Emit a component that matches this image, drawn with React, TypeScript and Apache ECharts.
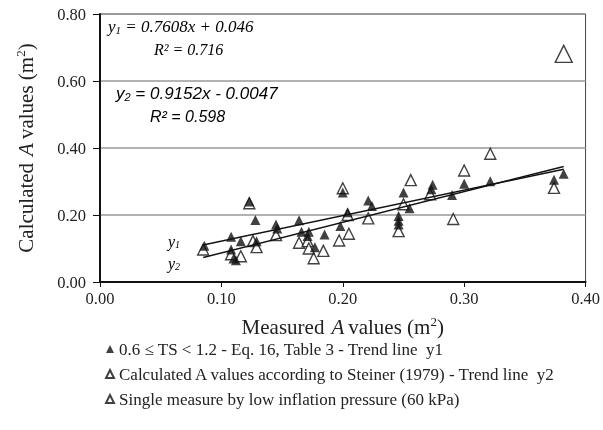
import React, { useEffect, useRef } from "react";
import * as echarts from "echarts";

// Measured vs calculated contact area, Eq. 16 (filled triangles)
const eq16Measured = [
  0.086, 0.108, 0.108, 0.110, 0.112, 0.116, 0.123, 0.128, 0.129, 0.145, 0.146,
  0.164, 0.166, 0.172, 0.171, 0.177, 0.185, 0.198, 0.200, 0.204, 0.221, 0.224,
  0.246, 0.246, 0.246, 0.250, 0.255, 0.274, 0.273, 0.290, 0.300, 0.3215, 0.374,
  0.382,
];
const eq16Calculated = [
  0.108, 0.135, 0.097, 0.070, 0.065, 0.122, 0.240, 0.185, 0.122, 0.172, 0.160,
  0.184, 0.150, 0.150, 0.137, 0.104, 0.142, 0.167, 0.267, 0.208, 0.243, 0.227,
  0.197, 0.183, 0.172, 0.267, 0.220, 0.290, 0.277, 0.260, 0.293, 0.301, 0.305,
  0.323,
];

// Steiner (1979) (open triangles)
const steinerMeasured = [
  0.085, 0.108, 0.116, 0.123, 0.126, 0.129, 0.145, 0.164, 0.171, 0.172, 0.176,
  0.184, 0.197, 0.205, 0.200, 0.204, 0.221, 0.246, 0.250, 0.256, 0.272, 0.291,
  0.300, 0.3215, 0.374,
];
const steinerCalculated = [
  0.097, 0.083, 0.077, 0.235, 0.122, 0.104, 0.140, 0.117, 0.122, 0.100, 0.071,
  0.093, 0.124, 0.144, 0.280, 0.200, 0.190, 0.152, 0.232, 0.304, 0.262, 0.188,
  0.333, 0.383, 0.281,
];

// Single measure by low inflation pressure
const lowPressureMeasured = [0.382];
const lowPressureCalculated = [0.681];

// Trend lines: [slope, intercept], drawn over [xStart, xEnd]
const trendY1 = [0.7608, 0.046];
const trendY2 = [0.9152, -0.0047];
const trendRange = [0.085, 0.382];

const xTickValues = [0, 0.1, 0.2, 0.3, 0.4];
const yTickValues = [0, 0.2, 0.4, 0.6, 0.8];

const seriesNames = [
  "0.6 ≤ TS < 1.2 - Eq. 16, Table 3 - Trend line  y1",
  "Calculated A values according to Steiner (1979) - Trend line  y2",
  "Single measure by low inflation pressure (60 kPa)",
];

const SERIF = "Liberation Serif";
const SANS = "Liberation Sans";
const INK = "#222";

const zip = (xs: number[], ys: number[]) => xs.map((x, i) => [x, ys[i]]);
const line = (c: number[]) => trendRange.map((x) => [x, c[0] * x + c[1]]);

const eqRich = (family: string, size: number) => ({
  v: { fontFamily: family, fontStyle: "italic", fontSize: size, color: INK },
  s: {
    fontFamily: family,
    fontStyle: "italic",
    fontSize: Math.round(size * 0.65),
    color: INK,
    padding: [Math.round(size * 0.4), 0, 0, 0],
  },
});

export default function App() {
  const ref = useRef<HTMLDivElement>(null);

  useEffect(() => {
    if (!ref.current) return;
    const chart = echarts.init(ref.current, null, { renderer: "svg" });

    const nameRich = {
      t: { fontFamily: SERIF, fontSize: 21, color: INK },
      i: { fontFamily: SERIF, fontStyle: "italic", fontSize: 21, color: INK, padding: [0, 4, 0, 7] },
      sup: { fontFamily: SERIF, fontSize: 13, color: INK, padding: [0, 0, 10, 0] },
    };

    chart.setOption({
      animation: false,
      textStyle: { fontFamily: SERIF },
      grid: {
        left: 100,
        right: 14,
        top: 14,
        bottom: 148,
        show: true,
        borderColor: "#444",
        borderWidth: 1,
      },
      legend: {
        orient: "vertical",
        left: 100,
        top: 335,
        itemWidth: 8,
        itemHeight: 8,
        itemGap: 7,
        selectedMode: false,
        data: seriesNames,
        textStyle: { fontFamily: SERIF, fontSize: 17, color: INK, lineHeight: 18 },
      },
      xAxis: {
        type: "value",
        min: xTickValues[0],
        max: xTickValues[xTickValues.length - 1],
        interval: 0.1,
        axisLine: { show: true, lineStyle: { color: "#111", width: 2 } },
        axisTick: { show: true, length: 5, lineStyle: { color: "#111", width: 1 } },
        splitLine: { show: false },
        axisLabel: {
          formatter: (v: number) => v.toFixed(2),
          fontFamily: SERIF,
          fontSize: 16.5,
          color: INK,
          margin: 8,
        },
        name: "{t|Measured}{i|A}{t|values (m}{sup|2}{t|)}",
        nameLocation: "middle",
        nameGap: 33,
        nameTextStyle: { fontFamily: SERIF, fontSize: 21, color: INK, rich: nameRich },
      },
      yAxis: {
        type: "value",
        min: yTickValues[0],
        max: yTickValues[yTickValues.length - 1],
        interval: 0.2,
        axisLine: { show: true, lineStyle: { color: "#111", width: 2 } },
        axisTick: { show: true, length: 7, lineStyle: { color: "#111", width: 1 } },
        splitLine: { show: true, lineStyle: { color: "#999", width: 1.5 } },
        axisLabel: {
          formatter: (v: number) => v.toFixed(2),
          fontFamily: SERIF,
          fontSize: 16.5,
          color: INK,
          margin: 14,
        },
        name: "{t|Calculated}{i|A}{t|values (m}{sup|2}{t|)}",
        nameLocation: "middle",
        nameGap: 63,
        nameTextStyle: { fontFamily: SERIF, fontSize: 21, color: INK, rich: nameRich },
      },
      series: [
        {
          name: seriesNames[0],
          type: "scatter",
          symbol: "triangle",
          symbolSize: 10,
          itemStyle: { color: "#111" },
          data: zip(eq16Measured, eq16Calculated),
          z: 4,
        },
        {
          name: seriesNames[1],
          type: "scatter",
          symbol: "triangle",
          symbolSize: 11,
          itemStyle: { color: "#fff", borderColor: "#111", borderWidth: 1.4 },
          data: zip(steinerMeasured, steinerCalculated),
          z: 3,
        },
        {
          name: seriesNames[2],
          type: "scatter",
          symbol: "triangle",
          symbolSize: 17,
          itemStyle: { color: "#fff", borderColor: "#111", borderWidth: 1.4 },
          data: zip(lowPressureMeasured, lowPressureCalculated),
          z: 3,
        },
        {
          type: "line",
          data: line(trendY1),
          symbol: "none",
          lineStyle: { color: "#111", width: 1.5 },
          z: 5,
        },
        {
          type: "line",
          data: line(trendY2),
          symbol: "none",
          lineStyle: { color: "#111", width: 1.5 },
          z: 5,
        },
      ],
      graphic: [
        {
          type: "text",
          left: 108,
          top: 18,
          style: { text: "{v|y}{s|1}{v| = 0.7608x + 0.046}", rich: eqRich(SERIF, 17) },
        },
        {
          type: "text",
          left: 154,
          top: 41,
          style: { text: "{v|R² = 0.716}", rich: eqRich(SERIF, 16) },
        },
        {
          type: "text",
          left: 116,
          top: 85,
          style: { text: "{v|y}{s|2}{v| = 0.9152x - 0.0047}", rich: eqRich(SANS, 17) },
        },
        {
          type: "text",
          left: 150,
          top: 108,
          style: { text: "{v|R² = 0.598}", rich: eqRich(SANS, 16) },
        },
        {
          type: "text",
          left: 168,
          top: 233,
          style: { text: "{v|y}{s|1}", rich: eqRich(SERIF, 16) },
        },
        {
          type: "text",
          left: 168,
          top: 255,
          style: { text: "{v|y}{s|2}", rich: eqRich(SERIF, 16) },
        },
      ],
    });

    return () => chart.dispose();
  }, []);

  return (
    <div
      ref={ref}
      style={{ position: "fixed", left: 0, top: 0, width: 603, height: 430 }}
    />
  );
}
